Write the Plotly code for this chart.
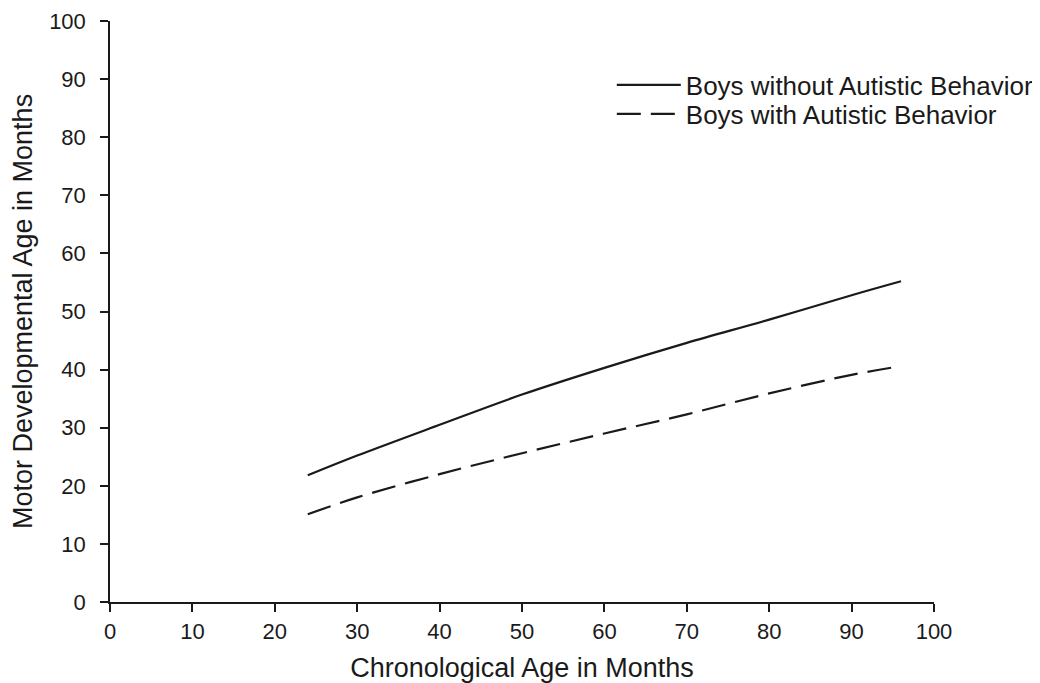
import plotly.graph_objects as go

age = [24, 30, 40, 50, 60, 70, 80, 90, 96]
without_autism = [21.8, 25.2, 30.5, 35.7, 40.3, 44.6, 48.6, 52.8, 55.2]
with_autism = [15.1, 18.0, 22.0, 25.6, 29.0, 32.3, 35.9, 39.1, 40.6]
ticks = list(range(0, 101, 10))

fig = go.Figure()
fig.add_trace(go.Scatter(x=age, y=without_autism, mode="lines",
                         name="Boys without Autistic Behavior", legend="legend",
                         line=dict(color="#1a1a1a", width=2.2, shape="spline")))
fig.add_trace(go.Scatter(x=age, y=with_autism, mode="lines",
                         name="Boys with Autistic Behavior", legend="legend2",
                         line=dict(color="#1a1a1a", width=2.2, dash="24px,10px", shape="spline")))

font = "Liberation Sans, Arial, sans-serif"
axis_common = dict(range=[0, 100], tickvals=ticks, showgrid=False, zeroline=False,
                   showline=True, linecolor="#1a1a1a", linewidth=1.5, automargin=False,
                   ticks="outside", ticklen=8, tickwidth=1.5, tickcolor="#1a1a1a",
                   tickfont=dict(size=22, color="#1a1a1a", family=font))
fig.update_xaxes(**axis_common, ticklabelstandoff=1,
                 title=dict(text="Chronological Age in Months", font=dict(size=27, color="#1a1a1a", family=font), standoff=15))
fig.update_yaxes(**axis_common, ticklabelstandoff=10,
                 title=dict(text="Motor Developmental Age in Months", font=dict(size=27, color="#1a1a1a", family=font), standoff=9))

leg_common = dict(xanchor="left", yanchor="middle",
                  font=dict(size=26, color="#1a1a1a", family=font),
                  bgcolor="rgba(0,0,0,0)", itemwidth=64)
fig.update_layout(
    width=1040, height=683,
    margin=dict(l=102, r=114, t=13, b=89, autoexpand=False),
    plot_bgcolor="white", paper_bgcolor="white",
    font=dict(family=font, color="#1a1a1a"),
    showlegend=True,
    legend=dict(x=0.609, y=0.890, **leg_common),
    legend2=dict(x=0.609, y=0.840, **leg_common),
)
fig.write_html("out.html")
